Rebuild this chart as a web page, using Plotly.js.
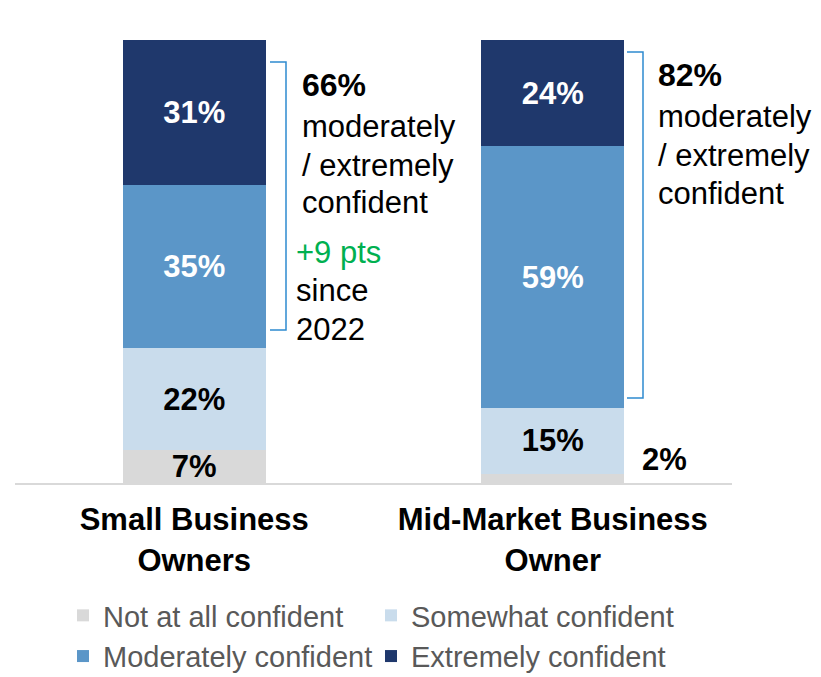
<!DOCTYPE html>
<html>
<head>
<meta charset="utf-8">
<script src="https://cdn.plot.ly/plotly-3.0.1.min.js"></script>
<style>html,body{margin:0;padding:0;background:#fff;}#chart{width:821px;height:677px;}</style>
</head>
<body>
<div id="chart"></div>
<script>
// ---- data ----
const categories = ["Small Business<br>Owners", "Mid-Market Business<br>Owner"];
const seriesNames = ["Not at all confident", "Somewhat confident", "Moderately confident", "Extremely confident"];
const notAtAll = [7, 2];
const somewhat = [22, 15];
const moderately = [35, 59];
const extremely = [31, 24];
const topTwoTotals = ["66%", "82%"];
const changeNote = ["+9 pts", "since", "2022"];

// ---- styling ----
const FONT = "Liberation Sans, Arial, sans-serif";
const colors = ["#d9d9d9", "#c9dcec", "#5b96c8", "#1f386c"];
const textColors = ["#000000", "#000000", "#ffffff", "#ffffff"];
const W = 821, H = 677, ML = 15, MR = 89, MT = 40, MB = 194;
const PW = W - ML - MR, PH = H - MT - MB;
const px = x => (x - ML) / PW;
const py = y => (H - MB - y) / PH;

const seriesVals = [notAtAll, somewhat, moderately, extremely];
const traces = seriesVals.map((vals, k) => ({
  type: "bar",
  name: seriesNames[k],
  x: categories,
  y: vals,
  marker: {color: colors[k], line: {width: 0}},
  text: vals.map((v, i) => (k === 0 && i === 1) ? "" : v + "%"),
  textposition: "inside",
  insidetextanchor: "middle",
  textangle: 0,
  constraintext: "none",
  insidetextfont: {family: FONT, size: 31, color: textColors[k], weight: 700},
  hoverinfo: "skip"
}));

function ann(text, x, y, opts) {
  return Object.assign({
    text: text, xref: "paper", yref: "paper", x: px(x), y: py(y),
    xanchor: "left", yanchor: "middle", showarrow: false,
    font: {family: FONT, size: 31, color: "#000000"}
  }, opts || {});
}

const annotations = [
  ann("<b>" + topTwoTotals[0] + "</b>", 300, 85, {font: {family: FONT, size: 32, color: "#000"}}),
  ann("moderately", 300, 127),
  ann("/ extremely", 300, 165),
  ann("confident", 300, 203),
  ann(changeNote[0], 294, 252, {font: {family: FONT, size: 31, color: "#00b050"}}),
  ann(changeNote[1], 294, 290),
  ann(changeNote[2], 294, 329),
  ann("<b>" + topTwoTotals[1] + "</b>", 656, 75, {font: {family: FONT, size: 32, color: "#000"}}),
  ann("moderately", 656, 117),
  ann("/ extremely", 656, 155),
  ann("confident", 656, 193),
  {
    text: "<b>" + notAtAll[1] + "%</b>", xref: "x", x: categories[1], xshift: 112,
    yref: "paper", y: py(459), xanchor: "center", yanchor: "middle", showarrow: false,
    font: {family: FONT, size: 31, color: "#000"}
  }
];

function bracket(x0, x1, y0, y1) {
  const path = "M" + px(x0) + "," + py(y0) + " L" + px(x1) + "," + py(y0) +
               " L" + px(x1) + "," + py(y1) + " L" + px(x0) + "," + py(y1);
  return {type: "path", xref: "paper", yref: "paper", path: path,
          line: {color: "#2e8bd0", width: 1.5}};
}

const layout = {
  width: W, height: H,
  margin: {l: ML, r: MR, t: MT, b: MB, pad: 0, autoexpand: false},
  paper_bgcolor: "#ffffff", plot_bgcolor: "#ffffff",
  barmode: "stack", barnorm: "percent", bargap: 0.6,
  showlegend: true,
  legend: {
    orientation: "h", x: px(63), y: py(590), xanchor: "left", yanchor: "top",
    traceorder: "normal", entrywidth: 263, entrywidthmode: "pixels",
    font: {family: FONT, size: 29, color: "#595959"}, bgcolor: "rgba(0,0,0,0)"
  },
  xaxis: {
    type: "category", range: [-0.5, 1.5], showline: true, linecolor: "#d9d9d9", linewidth: 2,
    ticks: "", showgrid: false, zeroline: false, fixedrange: true,
    tickfont: {family: FONT, size: 31, color: "#000000", weight: 700},
    ticklabelstandoff: 8
  },
  yaxis: {
    range: [0, 100], visible: false, showgrid: false, zeroline: false, fixedrange: true
  },
  annotations: annotations,
  shapes: [bracket(270, 286, 62, 330), bracket(627, 643, 52, 398)]
};

Plotly.newPlot("chart", traces, layout, {displayModeBar: false, staticPlot: true});
</script>
</body>
</html>
